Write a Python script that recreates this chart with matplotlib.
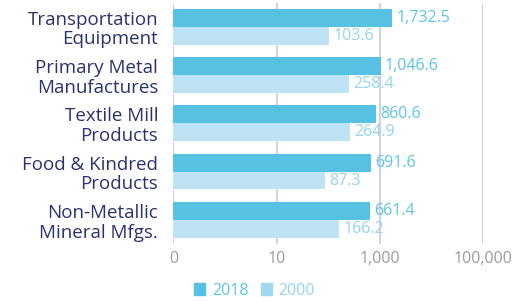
import matplotlib.pyplot as plt
import numpy as np
from matplotlib.patches import Patch

categories = ["Transportation\nEquipment", "Primary Metal\nManufactures", "Textile Mill\nProducts",
              "Food & Kindred\nProducts", "Non-Metallic\nMineral Mfgs."]
values_2018 = [1732.5, 1046.6, 860.6, 691.6, 661.4]
values_2000 = [103.6, 258.4, 264.9, 87.3, 166.2]
tick_values = [0.1, 10, 1000, 100000]
tick_labels = ["0", "10", "1,000", "100,000"]

c2018 = '#56c1e3'
c2000 = '#bde3f4'
txt2018 = '#5cc4e6'
txt2000 = '#95d3ee'
navy = '#2b3270'
grid_c = '#d5d1e5'

plt.rcParams['font.family'] = ['Open Sans', 'DejaVu Sans']

fig = plt.figure(figsize=(5.21, 3.02), dpi=100)
ax = fig.add_axes([0.333, 0.192, 0.5935, 0.7993])

y = np.arange(len(categories))
h = 0.37
ax.barh(y - h / 2, values_2018, height=h, color=c2018, zorder=2)
ax.barh(y + h / 2, values_2000, height=h, color=c2000, zorder=2)

for i in range(len(categories)):
    ax.annotate(f"{values_2018[i]:,.1f}", (values_2018[i], y[i] - h / 2), xytext=(3, 0),
                textcoords='offset points', va='center', ha='left', fontsize=11.5, color=txt2018)
    ax.annotate(f"{values_2000[i]:,.1f}", (values_2000[i], y[i] + h / 2), xytext=(3, 0),
                textcoords='offset points', va='center', ha='left', fontsize=11.5, color=txt2000)

ax.set_xscale('log')
ax.set_xlim(tick_values[0], tick_values[-1])
ax.set_ylim(len(categories) - 0.5, -0.5)
ax.set_xticks(tick_values)
ax.set_xticklabels(tick_labels)
ax.minorticks_off()
ax.set_yticks(y)
ax.set_yticklabels(categories, fontsize=13.5, color=navy, linespacing=1.12)
ax.tick_params(axis='y', length=0, pad=11)
ax.tick_params(axis='x', length=0, pad=5, labelsize=11.5, labelcolor='#9b9b9b')
ax.grid(axis='x', color=grid_c, linewidth=1.5, zorder=0)
for s in ax.spines.values():
    s.set_visible(False)

handles = [Patch(color=c2018, label='2018'), Patch(color='#9fd8f0', label='2000')]
leg = fig.legend(handles=handles, loc='center', bbox_to_anchor=(0.489, 0.038), ncol=2, frameon=False,
                 fontsize=11.5, handlelength=0.7, handleheight=0.7, handletextpad=0.4, columnspacing=0.8)
leg.get_texts()[0].set_color(txt2018)
leg.get_texts()[1].set_color(txt2000)

fig.savefig('out.png', dpi=100)
